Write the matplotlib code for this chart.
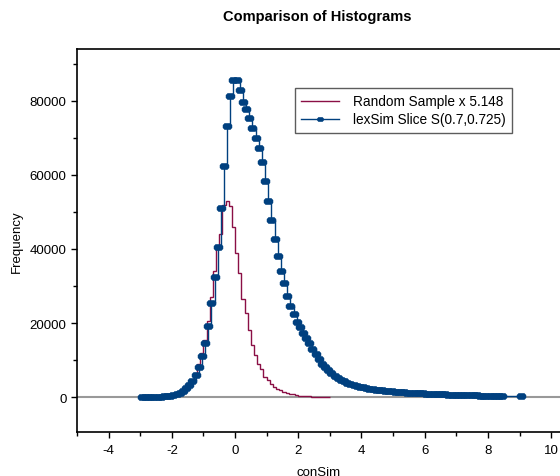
import numpy as np
import matplotlib
matplotlib.use("Agg")
import matplotlib.pyplot as plt
from matplotlib.ticker import MultipleLocator
from matplotlib.path import Path

plt.rcParams['font.family'] = ['Liberation Sans', 'DejaVu Sans']
plt.rcParams['axes.unicode_minus'] = False

# ---- data ----
# lexSim slice: histogram bin centers start at -2.95, width 0.1
lex_first_center = -2.95
lex_bin_width = 0.1
lex_values = [
    20, 30, 40, 50, 60, 80, 110, 150, 200, 300,          # -2.95 .. -2.05
    450, 700, 1100, 1700, 2400, 3300, 4200, 5900, 8200, 11200,  # -1.95 .. -1.05
    14700, 19300, 25400, 32400, 40600, 51100, 62400, 73300, 81400, 85800,  # -0.95 .. -0.05
    85600, 83100, 79800, 77700, 75500, 72600, 70100, 67400, 63500, 58400,  # 0.05 .. 0.95
    53000, 47800, 42800, 38200, 34000, 30900, 27400, 24500, 22400, 20300,  # 1.05 .. 1.95
    18800, 17400, 16000, 14500, 13100, 11600, 10200, 9050, 8050, 7250,     # 2.05 .. 2.95
    6550, 5800, 5200, 4650, 4200, 3850, 3550, 3250, 3000, 2780,           # 3.05 .. 3.95
    2600, 2430, 2280, 2140, 2010, 1900, 1800, 1710, 1620, 1540,           # 4.05 .. 4.95
    1470, 1400, 1340, 1280, 1220, 1170, 1110, 1060, 1010, 960,            # 5.05 .. 5.95
    920, 880, 840, 800, 760, 720, 690, 660, 630, 600,                     # 6.05 .. 6.95
    570, 540, 520, 490, 470, 450, 420, 400, 380, 360,                     # 7.05 .. 7.95
    340, 320, 300, 280, 260,                                              # 8.05 .. 8.45
]
lex_extra_x = [9.05]
lex_extra_values = [240]

# random sample (x 5.148): bin edges start at -2.5, width 0.1
rand_first_edge = -2.5
rand_bin_width = 0.1
rand_values = [
    40, 60, 90, 130, 200,                                   # -2.5 .. -2.0
    300, 500, 800, 1300, 2000, 3000, 4400, 6400, 8800, 12000,  # -2.0 .. -1.0
    15500, 20500, 27000, 34000, 40000, 44000, 51800, 53000, 51500, 46000,  # -1.0 .. 0.0
    38800, 33400, 26600, 22600, 18100, 14000, 11300, 9050, 7700, 5500,     # 0.0 .. 1.0
    4500, 3500, 2750, 2300, 1850, 1400, 1100, 900, 700, 550,               # 1.0 .. 2.0
    400, 300, 220, 160, 120, 90, 60, 40, 30, 20,                           # 2.0 .. 3.0
]

x_ticks = [-4, -2, 0, 2, 4, 6, 8, 10]
y_ticks = [0, 20000, 40000, 60000, 80000]

lex_x = lex_first_center + lex_bin_width * np.arange(len(lex_values))
lex_x = np.concatenate([lex_x, lex_extra_x])
lex_y = np.concatenate([lex_values, lex_extra_values])
rand_edges = rand_first_edge + rand_bin_width * np.arange(len(rand_values) + 1)

# wide octagon-like marker (wider than tall)
blob = Path([(-1.0, -0.3), (-0.6, -0.7), (0.6, -0.7), (1.0, -0.3),
             (1.0, 0.3), (0.6, 0.7), (-0.6, 0.7), (-1.0, 0.3), (-1.0, -0.3)],
            closed=True)

# ---- figure ----
fig = plt.figure(figsize=(5.6, 4.77), dpi=100)
ax = fig.add_axes([0.1375, 0.0922, 0.8625, 0.803])

red = '#8a0f45'
blue = '#00407f'

ax.axhline(0, color='#999999', lw=1.5, zorder=1)
ax.stairs(rand_values, rand_edges, color=red, lw=1.0, zorder=2,
          label='Random Sample x 5.148')
ax.plot(lex_x, lex_y, drawstyle='steps-post', color=blue, lw=1.0,
        marker=blob, ms=6.5, mec=blue, mfc=blue, mew=0.3, zorder=3,
        label='lexSim Slice S(0.7,0.725)')

ax.set_xlim(-5, 10.28)
ax.set_ylim(-9460, 94050)
ax.set_xticks(x_ticks)
ax.set_yticks(y_ticks)
ax.xaxis.set_minor_locator(MultipleLocator(1))
ax.yaxis.set_minor_locator(MultipleLocator(10000))
ax.tick_params(which='both', direction='out', labelsize=9.5, color='black')
ax.tick_params(which='major', length=4, width=1)
ax.tick_params(which='minor', length=3, width=1)
ax.tick_params(axis='x', pad=4.5)
for s in ['left', 'bottom', 'top']:
    ax.spines[s].set_linewidth(1.2)
ax.spines['right'].set_visible(False)

ax.set_xlabel('conSim', fontsize=9.5, labelpad=7)
ax.set_ylabel('Frequency', fontsize=9.5, labelpad=5)
fig.suptitle('Comparison of Histograms', fontsize=10.5, fontweight='bold',
             x=0.567, y=0.978)

leg = ax.legend(loc='upper left', bbox_to_anchor=(0.4515, 0.8974), fontsize=9.8,
                frameon=True, fancybox=False, edgecolor='#333333',
                borderpad=0.45, handlelength=2.8, labelspacing=0.3,
                handletextpad=1.0, borderaxespad=0)
leg.get_frame().set_linewidth(1.0)
leg.legend_handles[1].set_markersize(4.5)

fig.savefig('out.png', dpi=100)
